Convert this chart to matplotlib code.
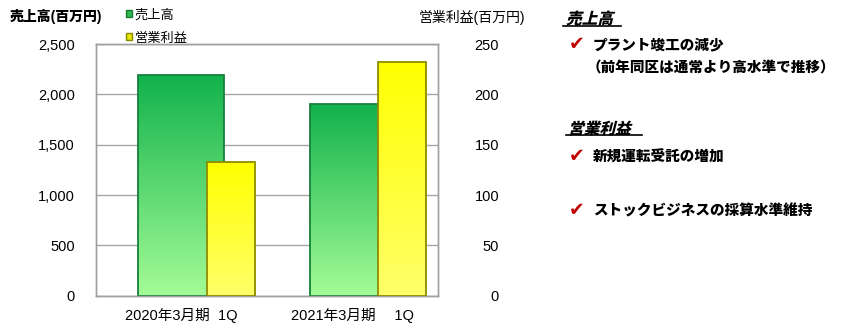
import numpy as np
import matplotlib.pyplot as plt
from matplotlib.patches import Patch, PathPatch
from matplotlib.lines import Line2D
from matplotlib.textpath import TextPath
from matplotlib.font_manager import FontProperties
from matplotlib.transforms import Affine2D
from matplotlib.colors import LinearSegmentedColormap

plt.rcParams['font.family'] = ['Liberation Sans', 'Noto Sans CJK JP', 'DejaVu Sans']

# data
periods = ['2020年3月期  1Q', '2021年3月期　 1Q']
sales = [2190, 1900]          # 売上高 (百万円)
op_profit = [133, 232]        # 営業利益 (百万円)
sales_ticks = [0, 500, 1000, 1500, 2000, 2500]
profit_ticks = [0, 50, 100, 150, 200, 250]

W, H, DPI = 841, 327, 100
fig = plt.figure(figsize=(W / DPI, H / DPI), dpi=DPI)
ax = fig.add_axes([95.7 / W, 1 - 295.7 / H, (438 - 95.7) / W, (295.7 - 44) / H])
ax2 = ax.twinx()


def fill_gradient(axis, bars, top, bottom):
    cmap = LinearSegmentedColormap.from_list('grad', [bottom, top])
    grad = np.linspace(0, 1, 256).reshape(-1, 1)
    for b in bars:
        x0, w, h = b.get_x(), b.get_width(), b.get_height()
        im = axis.imshow(grad, cmap=cmap, origin='lower', aspect='auto',
                         extent=(x0, x0 + w, 0, h), zorder=2.5)
        im.set_clip_path(b)


x = np.arange(len(periods))
g_bars = ax.bar(x, sales, width=0.5, facecolor='none', edgecolor='#17803a',
                linewidth=1.3, zorder=3)
fill_gradient(ax, g_bars, '#12b24c', '#a4fc96')
y_bars = ax2.bar(x + 0.29, op_profit, width=0.285, facecolor='none',
                 edgecolor='#8c8c00', linewidth=1.3, zorder=3)
fill_gradient(ax2, y_bars, '#ffff00', '#ffff6a')

ax.set_xlim(-0.5, 1.5)
ax.set_ylim(0, 2500)
ax2.set_ylim(0, 250)

ax.set_yticks(sales_ticks, [f'{v:,}' for v in sales_ticks])
ax2.set_yticks(profit_ticks)
ax.set_xticks(x, periods)
ax.tick_params(axis='y', length=0, pad=15, labelsize=10.5)
ax.tick_params(axis='x', length=0, pad=9, labelsize=10.5)
ax2.tick_params(axis='y', length=0, pad=44, labelsize=10.5)
for lab in ax2.get_yticklabels():
    lab.set_ha('right')

ax.set_axisbelow(True)
ax.grid(axis='y', color='#a6a6a6', linewidth=1)
for a in (ax, ax2):
    for s in a.spines.values():
        s.set_color('#a0a0a0')
        s.set_linewidth(1)

# legend
handles = [Patch(facecolor='#2eb84f', edgecolor='#1a7a30', label='売上高'),
           Patch(facecolor='#e6e600', edgecolor='#8a8a00', label='営業利益')]
fig.legend(handles=handles, loc='upper left', bbox_to_anchor=(126 / W, 1 - 9 / H),
           frameon=False, fontsize=9.5, handlelength=0.45, handleheight=0.45,
           handletextpad=0.2, labelspacing=0.85, borderpad=0, borderaxespad=0)

# axis titles
fig.text(10 / W, 1 - 17 / H, '売上高(百万円)', fontsize=10, weight='heavy', va='center')
fig.text(419 / W, 1 - 17 / H, '営業利益(百万円)', fontsize=10, va='center')


# commentary on the right
def slanted(text, x_px, base_px, size, ul_from, ul_to, ul_y):
    fp = FontProperties(family='Noto Sans CJK JP', weight='heavy')
    path = TextPath((0, 0), text, size=size * DPI / 72, prop=fp)
    tr = Affine2D().skew_deg(14, 0).translate(x_px, H - base_px)
    fig.add_artist(PathPatch(path, transform=tr, facecolor='black', lw=0))
    fig.add_artist(Line2D([ul_from / W, ul_to / W], [1 - ul_y / H] * 2,
                          transform=fig.transFigure, color='black', lw=1.2))


def bullet(y_px, text, x_px=593, check=True):
    if check:
        fig.text(569 / W, 1 - y_px / H, '✔', color='#c00000', fontsize=13.5,
                 family='DejaVu Sans', weight='bold', va='center')
    fig.text(x_px / W, 1 - y_px / H, text, fontsize=10.5, weight='heavy',
             family=['Noto Sans CJK JP', 'DejaVu Sans'], va='center')


slanted('売上高', 566, 24, 11.3, 563, 621, 26)
bullet(45, 'プラント竣工の減少')
bullet(68, '（前年同区は通常より高水準で推移）', x_px=587, check=False)
slanted('営業利益', 568, 134, 11.3, 566, 642, 135)
bullet(157, '新規運転受託の増加')
bullet(211, 'ストックビジネスの採算水準維持')

fig.savefig('out.png', dpi=DPI)
